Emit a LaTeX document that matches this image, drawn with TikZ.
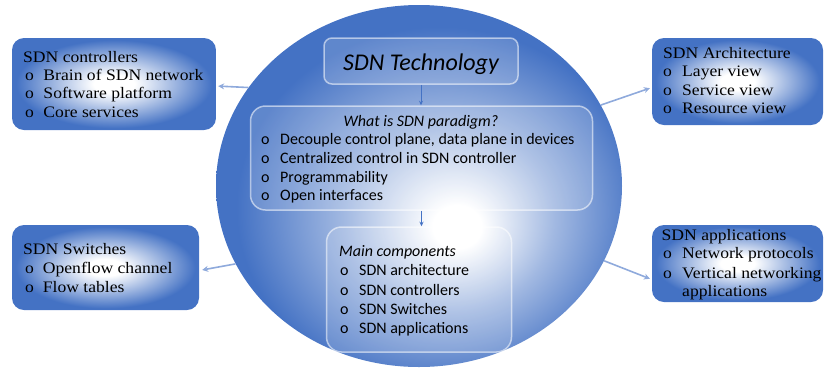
\documentclass[tikz,border=0pt]{standalone}
\usepackage{fontspec}
\usetikzlibrary{arrows.meta,shapes.geometric}

\newfontfamily\boxfont[FakeStretch=1.1]{Liberation Serif}
\newfontfamily\corefont{Carlito}

\definecolor{sdnblue}{HTML}{4472C4}
\definecolor{linkblue}{HTML}{8FAADC}

% central disc: bright spot a little right of and below the centre
\pgfdeclareradialshading{discshade}{\pgfpoint{5bp}{-6bp}}{%
  color(0bp)=(white); color(3bp)=(white);
  color(13bp)=(sdnblue!50!white); color(25bp)=(sdnblue); color(50bp)=(sdnblue)}
% side boxes: white core fading to blue edges
\pgfdeclareradialshading{boxshade}{\pgfpoint{0bp}{0bp}}{%
  color(0bp)=(white); color(5bp)=(white);
  color(24bp)=(sdnblue); color(50bp)=(sdnblue)}

\begin{document}
\begin{tikzpicture}[x=1pt,y=-1pt,
  sidebox/.style={rectangle, rounded corners=12pt, shading=boxshade, inner sep=0pt},
  glassbox/.style={rectangle, draw=white, draw opacity=0.55, line width=1.5pt,
    fill=white, fill opacity=0.15, inner sep=0pt},
  sidetext/.style={anchor=base west, inner sep=0pt,
    font=\boxfont\fontsize{16}{18}\selectfont},
  coretext/.style={anchor=base west, inner sep=0pt,
    font=\corefont\fontsize{16}{19}\selectfont},
  link/.style={draw=linkblue, line width=1.6pt, -{Stealth[length=6pt,width=6pt]}},
  flow/.style={draw=sdnblue, line width=0.8pt, -{Stealth[length=4.5pt,width=4pt]}}]

\useasboundingbox (0,0) rectangle (825,368);

% ---------- central disc ----------
\node[ellipse, shading=discshade, minimum width=406pt, minimum height=362pt,
      inner sep=0pt] (sdn) at (419,186) {};

% ---------- side boxes ----------
\node[sidebox, minimum width=204pt, minimum height=92pt] (ctrl) at (114,84) {};
\node[sidebox, minimum width=171pt, minimum height=87pt] (arch) at (737.5,81.5) {};
\node[sidebox, minimum width=187pt, minimum height=85pt] (sw)   at (105.5,267.5) {};
\node[sidebox, minimum width=171pt, minimum height=77pt] (app)  at (737.5,263.5) {};

% ---------- boxes inside the disc ----------
\node[glassbox, rounded corners=8pt, minimum width=194pt, minimum height=46pt]
  (tech) at (421,61) {};
\node[glassbox, rounded corners=15pt, minimum width=342pt, minimum height=104pt]
  (para) at (421.5,158) {};
\node[glassbox, rounded corners=15pt, minimum width=185pt, minimum height=125pt]
  (comp) at (419,289.5) {};

% ---------- connectors ----------
\draw[flow] (tech.south) -- (tech.south |- para.north);
\draw[flow] (para.south) -- (para.south |- comp.north);

\draw[link, shorten >=2pt] (sdn.150) -- ([yshift=-2pt]ctrl.east);
\draw[link, shorten >=2pt] (sdn.24)  -- ([yshift=-6pt]arch.west);
\draw[link, shorten >=3pt] (sdn.203) -- ([yshift=-3pt]sw.east);
\draw[link, shorten >=2pt] (sdn.338) -- ([yshift=-16pt]app.west);

% ---------- texts in the disc ----------
\node[anchor=base, inner sep=0pt, font=\corefont\itshape\fontsize{24}{28}\selectfont]
  (techT) at (421,70.5) {SDN Technology};

\node[anchor=base, inner sep=0pt, font=\corefont\itshape\fontsize{16}{19}\selectfont]
  (paraT) at (421,126) {What is SDN paradigm?};
\node[coretext] (para1) at (261,144.3) {\makebox[19pt][l]{o}Decouple control plane, data plane in devices};
\node[coretext] (para2) at (261,163.3) {\makebox[19pt][l]{o}Centralized control in SDN controller};
\node[coretext] (para3) at (261,182.3) {\makebox[19pt][l]{o}Programmability};
\node[coretext] (para4) at (261,200.7) {\makebox[19pt][l]{o}Open interfaces};

\node[coretext, font=\corefont\itshape\fontsize{16}{19}\selectfont]
  (compT) at (339,256) {Main components};
\node[coretext] (comp1) at (340,275.7) {\makebox[19pt][l]{o}SDN architecture};
\node[coretext] (comp2) at (340,295)   {\makebox[19pt][l]{o}SDN controllers};
\node[coretext] (comp3) at (340,314)   {\makebox[19pt][l]{o}SDN Switches};
\node[coretext] (comp4) at (340,333.3) {\makebox[19pt][l]{o}SDN applications};

% ---------- texts in the side boxes ----------
\node[sidetext] (ctrl0) at (23,62)  {SDN controllers};
\node[sidetext] (ctrl1) at (25,80)  {\makebox[18.3pt][l]{o}Brain of SDN network};
\node[sidetext] (ctrl2) at (25,98.5){\makebox[18.3pt][l]{o}Software platform};
\node[sidetext] (ctrl3) at (25,117) {\makebox[18.3pt][l]{o}Core services};

\node[sidetext] (arch0) at (663,58.3)  {SDN Architecture};
\node[sidetext] (arch1) at (663,76.7)  {\makebox[19pt][l]{o}Layer view};
\node[sidetext] (arch2) at (663,95)    {\makebox[19pt][l]{o}Service view};
\node[sidetext] (arch3) at (663,113.3) {\makebox[19pt][l]{o}Resource view};

\node[sidetext] (sw0) at (23,254.3) {SDN Switches};
\node[sidetext] (sw1) at (25,273.3) {\makebox[17.7pt][l]{o}Openflow channel};
\node[sidetext] (sw2) at (25,292.5) {\makebox[17.7pt][l]{o}Flow tables};

\node[sidetext] (app0) at (661.5,240) {SDN applications};
\node[sidetext] (app1) at (663,258.8) {\makebox[19pt][l]{o}Network protocols};
\node[sidetext] (app2) at (663,278.3) {\makebox[19pt][l]{o}Vertical networking};
\node[sidetext] (app3) at (682,296.8) {applications};

\end{tikzpicture}
\end{document}
